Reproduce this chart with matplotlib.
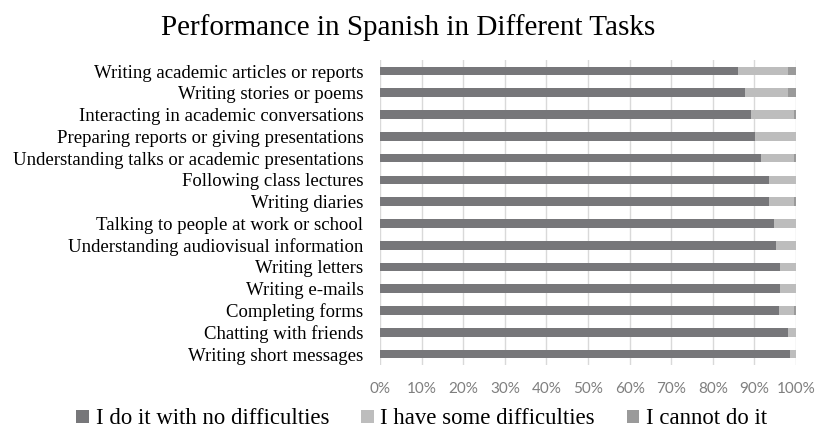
import matplotlib
matplotlib.use("Agg")
import matplotlib.pyplot as plt
import numpy as np

tasks = ["Writing academic articles or reports", "Writing stories or poems",
         "Interacting in academic conversations", "Preparing reports or giving presentations",
         "Understanding talks or academic presentations", "Following class lectures",
         "Writing diaries", "Talking to people at work or school",
         "Understanding audiovisual information", "Writing letters", "Writing e-mails",
         "Completing forms", "Chatting with friends", "Writing short messages"]
no_diff = [86.1, 87.7, 89.2, 90.1, 91.6, 93.5, 93.5, 94.7, 95.2, 96.2, 96.2, 96.0, 98.0, 98.6]
some_diff = [11.9, 10.3, 10.3, 9.9, 7.9, 6.5, 6.0, 5.3, 4.8, 3.8, 3.8, 3.5, 2.0, 1.4]
cannot = [2.0, 2.0, 0.5, 0.0, 0.5, 0.0, 0.5, 0.0, 0.0, 0.0, 0.0, 0.5, 0.0, 0.0]

fig = plt.figure(figsize=(8.16, 4.36), dpi=100)
ax = fig.add_axes([0.4657, 0.163, 0.5098, 0.699])

y = np.arange(len(tasks))
h = 0.4
no_diff = np.array(no_diff)
some_diff = np.array(some_diff)
cannot = np.array(cannot)
ax.barh(y, no_diff, height=h, color="#77777a", label="I do it with no difficulties", zorder=3)
ax.barh(y, some_diff, left=no_diff, height=h, color="#bdbdbd", label="I have some difficulties", zorder=3)
ax.barh(y, cannot, left=no_diff + some_diff, height=h, color="#9a9a9a", label="I cannot do it", zorder=3)

# light vertical gridlines behind the bars
ax.set_xlim(0, 100)
ax.set_ylim(len(tasks) - 0.5, -0.5)
ax.set_xticks(np.arange(0, 101, 10))
ax.grid(axis="x", color="#d9d9d9", lw=1, zorder=0)
ax.set_axisbelow(True)
ax.set_yticks(y)
ax.set_yticklabels(tasks, fontfamily="Liberation Serif", fontsize=13.5)
ax.set_xticklabels([f"{v}%" for v in range(0, 101, 10)], fontfamily="Lato",
                   fontsize=11, color="#7f7f7f")
ax.tick_params(axis="both", length=0)
ax.tick_params(axis="x", pad=12)
ax.tick_params(axis="y", pad=12)
for s in ax.spines.values():
    s.set_visible(False)

fig.suptitle("Performance in Spanish in Different Tasks", fontfamily="Liberation Serif",
             fontsize=21, y=0.968)
fig.legend(loc="lower center", bbox_to_anchor=(0.517, -0.032), ncol=3, frameon=False,
           prop={"family": "Liberation Serif", "size": 16.4}, handlelength=0.55,
           handleheight=0.55, handletextpad=0.3, columnspacing=1.4)

fig.savefig("out.png", dpi=100)
